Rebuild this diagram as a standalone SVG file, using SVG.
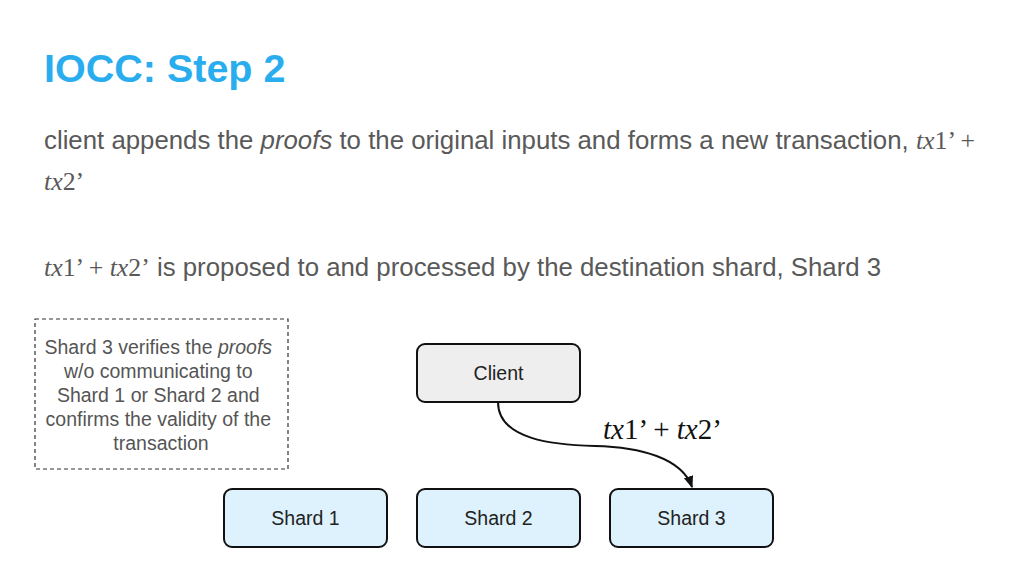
<svg xmlns="http://www.w3.org/2000/svg" width="1024" height="576" viewBox="0 0 1024 576">
<defs>
<style>
.t{font-family:"Liberation Sans",Arial,sans-serif}
.m{font-family:"Liberation Serif","Times New Roman",serif;font-style:italic}
.r{font-family:"Liberation Serif","Times New Roman",serif}
.body{font-size:25.8px;fill:#595959}
.node{stroke:#111;stroke-width:2}
.lbl{font-family:"Liberation Sans",Arial,sans-serif;font-size:19.5px;fill:#222;text-anchor:middle}
</style>
<marker id="ah" viewBox="0 0 10 10" refX="9" refY="5" markerWidth="6" markerHeight="6" orient="auto-start-reverse">
<path d="M0,1 L10,5 L0,9 z" fill="#111"/>
</marker>
</defs>
<rect width="1024" height="576" fill="#fff"/>
<text x="44" y="82" class="t" font-size="39.5" font-weight="bold" fill="#2AADEE">IOCC: Step 2</text>
<text x="44" y="149" class="t body">client appends the <tspan font-style="italic">proofs</tspan> to the original inputs and forms a new transaction, <tspan class="m">tx</tspan><tspan class="r">1’ +</tspan></text>
<text x="44" y="190" class="body"><tspan class="m">tx</tspan><tspan class="r">2’</tspan></text>
<text x="44" y="276" class="t body"><tspan class="m">tx</tspan><tspan class="r">1’ + </tspan><tspan class="m">tx</tspan><tspan class="r">2’</tspan> is proposed to and processed by the destination shard, Shard 3</text>
<g id="note">
<rect x="35" y="319" width="253" height="150" fill="none" stroke="#333" stroke-width="1.2" stroke-dasharray="4,3"/>
<text class="t" font-size="19.5" fill="#555" text-anchor="middle">
<tspan x="161" y="354">Shard 3 verifies the <tspan font-style="italic">proofs</tspan></tspan>
<tspan x="161" y="378">w/o communicating to</tspan>
<tspan x="161" y="402">Shard 1 or Shard 2 and</tspan>
<tspan x="161" y="426">confirms the validity of the</tspan>
<tspan x="161" y="450">transaction</tspan>
</text>
</g>
<g id="client">
<rect x="417" y="344" width="163" height="58" rx="8" fill="#EEEEEE" class="node"/>
<text x="498.5" y="380" class="lbl">Client</text>
</g>
<g id="shard1">
<rect x="224" y="489" width="163" height="58" rx="8" fill="#DDF2FD" class="node"/>
<text x="305.5" y="525" class="lbl">Shard 1</text>
</g>
<g id="shard2">
<rect x="417" y="489" width="163" height="58" rx="8" fill="#DDF2FD" class="node"/>
<text x="498.5" y="525" class="lbl">Shard 2</text>
</g>
<g id="shard3">
<rect x="610" y="489" width="163" height="58" rx="8" fill="#DDF2FD" class="node"/>
<text x="691.5" y="525" class="lbl">Shard 3</text>
</g>
<g id="connectors">
<path d="M498,402 C498,440 555,445 595,446 C640,447 682,458 692,487" fill="none" stroke="#111" stroke-width="2" marker-end="url(#ah)"/>
<text x="603" y="439" font-size="29" fill="#111"><tspan class="m">tx</tspan><tspan class="r">1’ + </tspan><tspan class="m">tx</tspan><tspan class="r">2’</tspan></text>
</g>
</svg>
